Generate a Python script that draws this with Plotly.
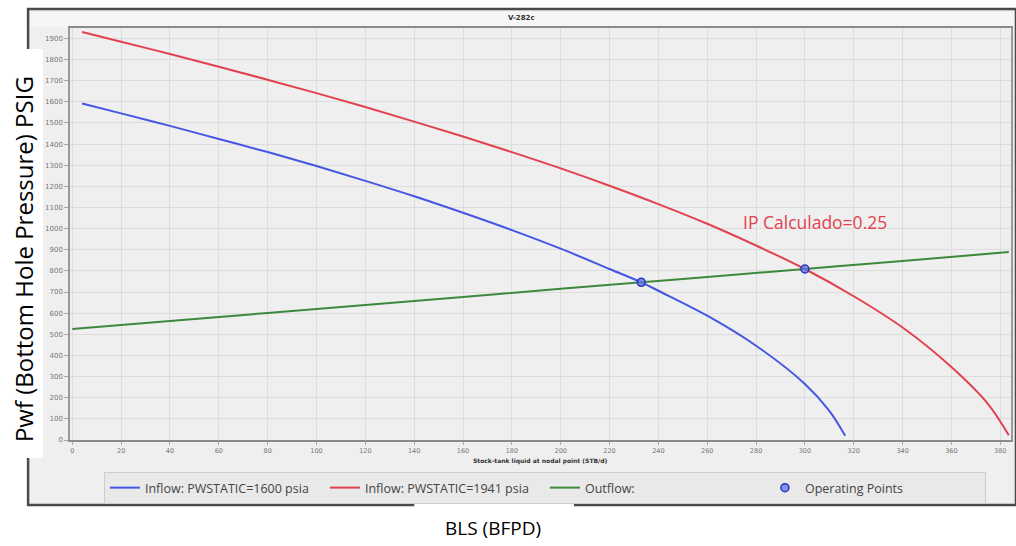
import plotly.graph_objects as go

# ---------------- data ----------------
inflow1600_x = [4, 20, 40, 60, 80, 100, 120, 140, 160, 180, 200, 220, 233, 240, 260, 280, 300, 310, 316.5]
inflow1600_y = [1592, 1545, 1486, 1424, 1362, 1296, 1226, 1153, 1075, 993, 905, 809, 746, 706, 588, 446, 265, 138, 20]

inflow1941_x = [4, 20, 40, 60, 80, 100, 120, 140, 160, 180, 200, 220, 240, 260, 280, 300, 320, 340, 360, 375, 383.5]
inflow1941_y = [1930, 1884, 1826, 1766, 1704, 1641, 1575, 1506, 1436, 1362, 1285, 1203, 1116, 1023, 920, 809, 680, 532, 345, 170, 22]

outflow_x = [0, 40, 80, 120, 160, 200, 233, 260, 300, 340, 383.5]
outflow_y = [525, 563, 601, 639, 677, 715, 746, 771, 809, 847, 889]

op_x = [233, 300]
op_y = [746, 809]

x_ticks = list(range(0, 381, 20))
y_ticks = list(range(0, 1901, 100))

# ---------------- layout geometry ----------------
W_FIG, H_FIG = 1016, 546
ML, MR, MT, MB = 70, 3, 28, 106
PW = W_FIG - ML - MR
PH = H_FIG - MT - MB


def px(xp):
    return (xp - ML) / PW


def py(yp):
    return (H_FIG - MB - yp) / PH


BLUE = "rgb(68,86,228)"
RED = "rgb(226,66,78)"
GREEN = "rgb(62,136,62)"

fig = go.Figure()
fig.add_trace(go.Scatter(x=inflow1600_x, y=inflow1600_y, mode="lines", line=dict(color=BLUE, width=2, shape="spline"),
                         name="Inflow: PWSTATIC=1600 psia"))
fig.add_trace(go.Scatter(x=inflow1941_x, y=inflow1941_y, mode="lines", line=dict(color=RED, width=2, shape="spline"),
                         name="Inflow: PWSTATIC=1941 psia"))
fig.add_trace(go.Scatter(x=outflow_x, y=outflow_y, mode="lines", line=dict(color=GREEN, width=2, shape="spline"),
                         name="Outflow:"))
fig.add_trace(go.Scatter(x=op_x, y=op_y, mode="markers",
                         marker=dict(size=8, color="rgba(95,115,235,0.75)", line=dict(color="rgb(40,55,190)", width=1.5)),
                         name="Operating Points"))

shapes = [
    # outer window frame
    dict(type="rect", xref="paper", yref="paper", x0=px(28), x1=px(1018), y0=py(9), y1=py(505),
         fillcolor="#efefef", line=dict(color="#4a4a4a", width=2.5), layer="below"),
    # title band
    dict(type="rect", xref="paper", yref="paper", x0=px(30), x1=px(1016), y0=py(12), y1=py(27),
         fillcolor="#f6f6f6", line=dict(width=0), layer="below"),
    # white patch behind left label
    dict(type="rect", xref="paper", yref="paper", x0=px(0), x1=px(43), y0=py(49), y1=py(458),
         fillcolor="white", line=dict(width=0), layer="below"),
    # white patch behind bottom label
    dict(type="rect", xref="paper", yref="paper", x0=px(415), x1=px(575), y0=py(503), y1=py(546),
         fillcolor="white", line=dict(width=0), layer="below"),
]

annotations = [
    dict(text="<b>V-282c</b>", xref="paper", yref="paper", x=px(522), y=py(18), xanchor="center", yanchor="middle",
         showarrow=False, font=dict(size=7, color="#333", family="DejaVu Sans")),
    dict(text="<b>Stock-tank liquid at nodal point (STB/d)</b>", xref="paper", yref="paper", x=px(542), y=py(461),
         xanchor="center", yanchor="middle",
         showarrow=False, font=dict(size=6, color="#333", family="DejaVu Sans")),
    dict(text="IP Calculado=0.25", xref="x", yref="y", x=274, y=1031, xanchor="left", yanchor="middle",
         showarrow=False, font=dict(size=17.5, color=RED, family="Open Sans")),
    dict(text="Pwf (Bottom Hole Pressure) PSIG", xref="paper", yref="paper", x=px(23), y=py(259), textangle=-90,
         xanchor="center", yanchor="middle",
         showarrow=False, font=dict(size=24, color="black", family="Open Sans")),
    dict(text="BLS (BFPD)", xref="paper", yref="paper", x=px(494), y=py(528), xanchor="center", yanchor="middle",
         showarrow=False, font=dict(size=19, color="black", family="Open Sans")),
]

fig.update_layout(
    width=W_FIG, height=H_FIG,
    margin=dict(l=ML, r=MR, t=MT, b=MB),
    paper_bgcolor="white", plot_bgcolor="white",
    shapes=shapes, annotations=annotations,
    showlegend=True,
    legend=dict(orientation="h", x=px(104), y=py(472), xanchor="left", yanchor="top",
                bgcolor="#e9e9e9", bordercolor="#cccccc", borderwidth=1,
                entrywidth=175, entrywidthmode="pixels",
                font=dict(size=12.5, color="#444", family="Open Sans"),
                itemwidth=30, tracegroupgap=0),
    xaxis=dict(range=[-0.94, 384.4], tickvals=x_ticks, ticktext=[str(v) for v in x_ticks],
               showgrid=True, gridcolor="#dcdcdc", gridwidth=1, zeroline=False,
               showline=True, linecolor="#8a8a8a", linewidth=2, mirror=True,
               ticks="outside", ticklen=3, tickcolor="#aaa",
               tickfont=dict(size=6.5, color="#777", family="DejaVu Sans")),
    yaxis=dict(range=[0, 1949], tickvals=y_ticks, ticktext=[str(v) for v in y_ticks],
               showgrid=True, gridcolor="#dcdcdc", gridwidth=1, zeroline=False,
               showline=True, linecolor="#9a9a9a", linewidth=1.5, mirror=True,
               ticks="outside", ticklen=4, tickcolor="#aaa",
               tickfont=dict(size=7, color="#777", family="DejaVu Sans")),
)

fig.write_html("out.html")
